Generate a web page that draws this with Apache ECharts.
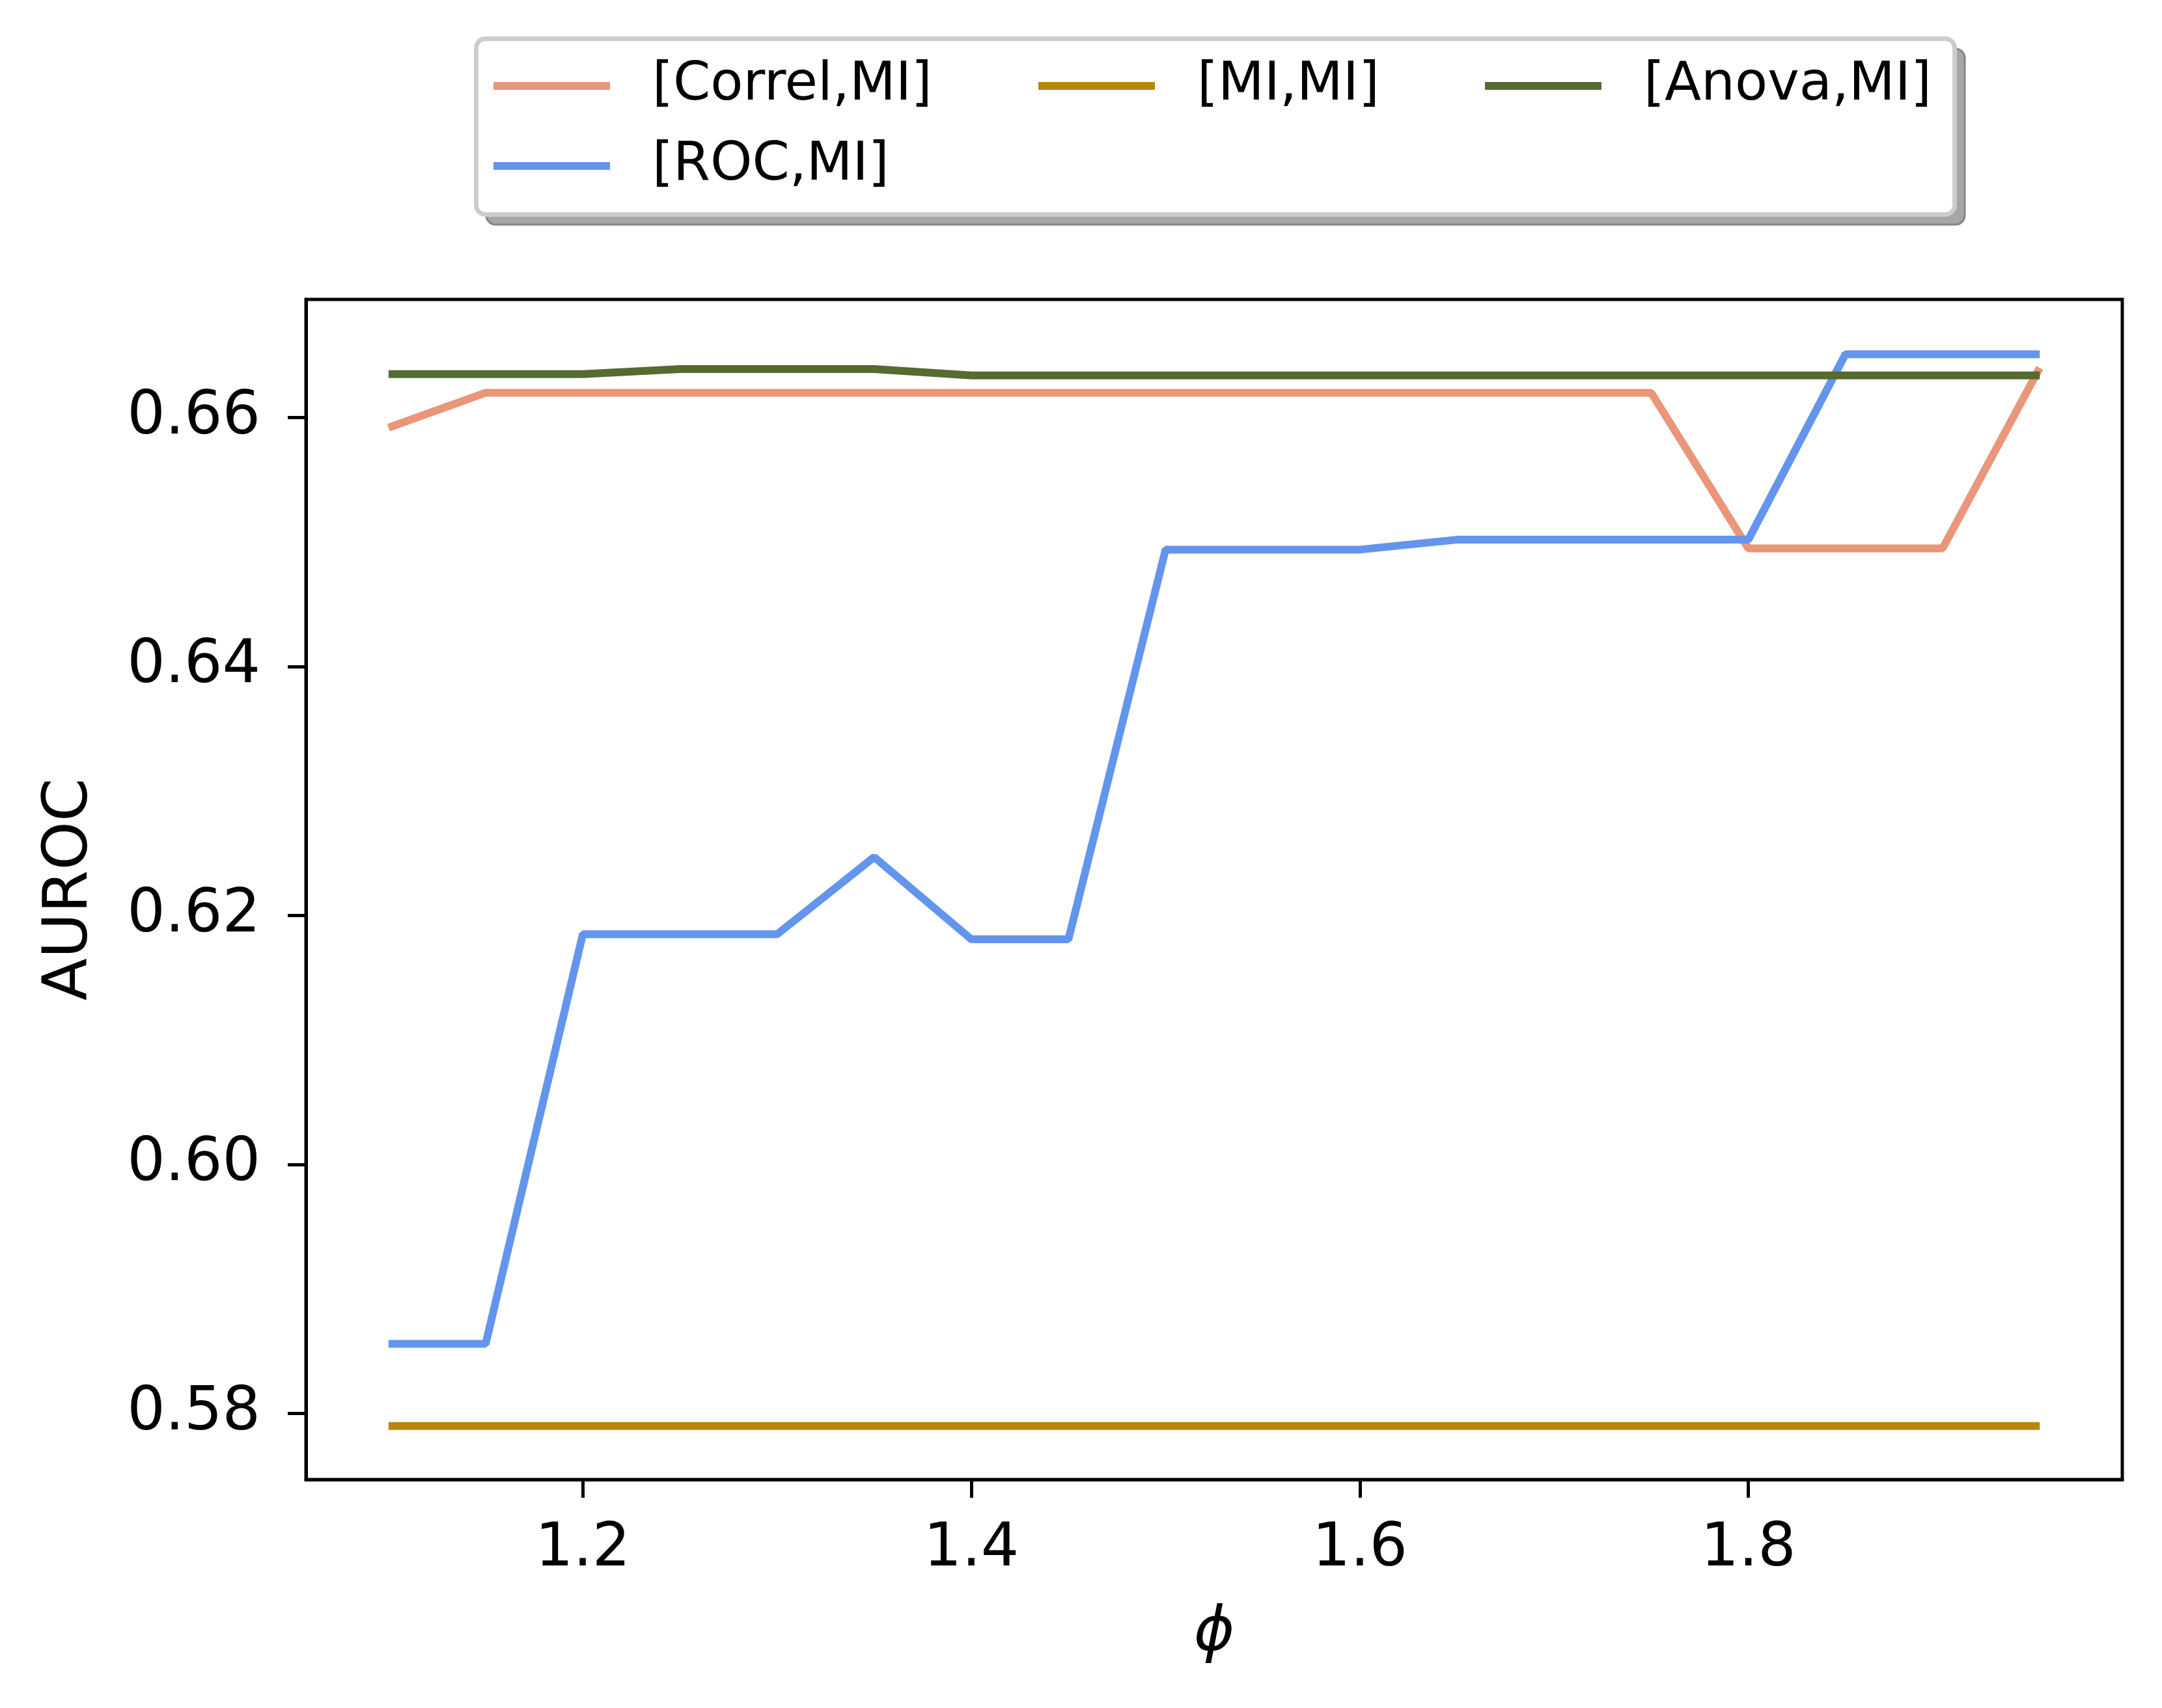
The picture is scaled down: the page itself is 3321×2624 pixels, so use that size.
<!DOCTYPE html>
<html>
<head>
<meta charset="utf-8">
<script src="https://cdn.jsdelivr.net/npm/echarts@6/dist/echarts.min.js"></script>
<style>
  html, body { margin: 0; padding: 0; background: #fff; }
  #chart { width: 3321px; height: 2624px; }
</style>
</head>
<body>
<div id="chart"></div>
<script>
// phi values on the x axis
const phi = [1.10, 1.15, 1.20, 1.25, 1.30, 1.35, 1.40, 1.45, 1.50, 1.55,
             1.60, 1.65, 1.70, 1.75, 1.80, 1.85, 1.90, 1.95];

// AUROC per method pair
const correlMI = [0.6592, 0.6620, 0.6620, 0.6620, 0.6620, 0.6620, 0.6620, 0.6620, 0.6620, 0.6620,
                  0.6620, 0.6620, 0.6620, 0.6620, 0.6495, 0.6495, 0.6495, 0.6640];
const rocMI    = [0.5856, 0.5856, 0.6185, 0.6185, 0.6185, 0.6247, 0.6181, 0.6181, 0.6494, 0.6494,
                  0.6494, 0.6502, 0.6502, 0.6502, 0.6502, 0.6651, 0.6651, 0.6651];
const miMI     = [0.5790, 0.5790, 0.5790, 0.5790, 0.5790, 0.5790, 0.5790, 0.5790, 0.5790, 0.5790,
                  0.5790, 0.5790, 0.5790, 0.5790, 0.5790, 0.5790, 0.5790, 0.5790];
const anovaMI  = [0.6635, 0.6635, 0.6635, 0.6639, 0.6639, 0.6639, 0.6634, 0.6634, 0.6634, 0.6634,
                  0.6634, 0.6634, 0.6634, 0.6634, 0.6634, 0.6634, 0.6634, 0.6634];

// tick labels
const xTicks = [1.2, 1.4, 1.6, 1.8];
const yTicks = [0.58, 0.60, 0.62, 0.64, 0.66];

const names = ['[Correl,MI]', '[ROC,MI]', '[MI,MI]', '[Anova,MI]'];
const colors = ['#E9967A', '#6495ED', '#B8860B', '#556B2F'];
const values = [correlMI, rocMI, miMI, anovaMI];

const font = 'DejaVu Sans';

const chart = echarts.init(document.getElementById('chart'));

// one legend per matplotlib column
const legendBase = {
    orient: 'vertical',
    padding: 0,
    itemGap: 33,
    itemWidth: 179,
    itemHeight: 12,
    icon: 'rect',
    selectedMode: false,
    textStyle: {
        fontFamily: font,
        fontSize: 82,
        lineHeight: 90,
        color: '#000',
        padding: [0, 0, 0, 60]
    }
};

const option = {
    backgroundColor: '#fff',
    animation: false,
    color: colors,
    graphic: [
        // legend shadow
        {
            type: 'rect', z: 0,
            shape: { x: 747, y: 75, width: 2271, height: 270, r: 14 },
            style: { fill: '#a6a6a6', stroke: '#858585', lineWidth: 3 }
        },
        // legend frame
        {
            type: 'rect', z: 1,
            shape: { x: 731.5, y: 59.5, width: 2271, height: 270, r: 14 },
            style: { fill: '#fff', stroke: '#cccccc', lineWidth: 7 }
        }
    ],
    legend: [
        Object.assign({}, legendBase, { left: 758, top: 87, data: [names[0], names[1]] }),
        Object.assign({}, legendBase, { left: 1595, top: 87, data: [names[2]] }),
        Object.assign({}, legendBase, { left: 2281, top: 87, data: [names[3]] })
    ],
    grid: {
        left: 470, top: 460, width: 2790, height: 1813,
        show: true, borderColor: '#000', borderWidth: 5,
        backgroundColor: 'transparent'
    },
    xAxis: {
        type: 'value',
        min: 1.0575,
        max: 1.9925,
        name: 'ϕ',
        nameLocation: 'middle',
        nameGap: 190,
        nameTextStyle: { fontFamily: font, fontSize: 95, fontStyle: 'italic', color: '#000' },
        splitLine: { show: false },
        axisLine: { lineStyle: { color: '#000', width: 5 } },
        axisTick: { customValues: xTicks, length: 28, lineStyle: { color: '#000', width: 5 } },
        axisLabel: {
            customValues: xTicks,
            margin: 62,
            fontFamily: font, fontSize: 92, color: '#000',
            formatter: v => v.toFixed(1)
        }
    },
    yAxis: {
        type: 'value',
        min: 0.5747,
        max: 0.6695,
        name: 'AUROC',
        nameLocation: 'middle',
        nameGap: 314,
        nameRotate: 90,
        nameTextStyle: { fontFamily: font, fontSize: 95, color: '#000' },
        splitLine: { show: false },
        axisLine: { show: true, lineStyle: { color: '#000', width: 5 } },
        axisTick: { show: true, customValues: yTicks, length: 28, lineStyle: { color: '#000', width: 5 } },
        axisLabel: {
            customValues: yTicks,
            margin: 70,
            fontFamily: font, fontSize: 92, color: '#000',
            formatter: v => v.toFixed(2)
        }
    },
    series: names.map((n, i) => ({
        name: n,
        type: 'line',
        data: phi.map((x, j) => [x, values[i][j]]),
        showSymbol: false,
        symbol: 'none',
        color: colors[i],
        lineStyle: { width: 12, color: colors[i] }
    }))
};

chart.setOption(option);
</script>
</body>
</html>
